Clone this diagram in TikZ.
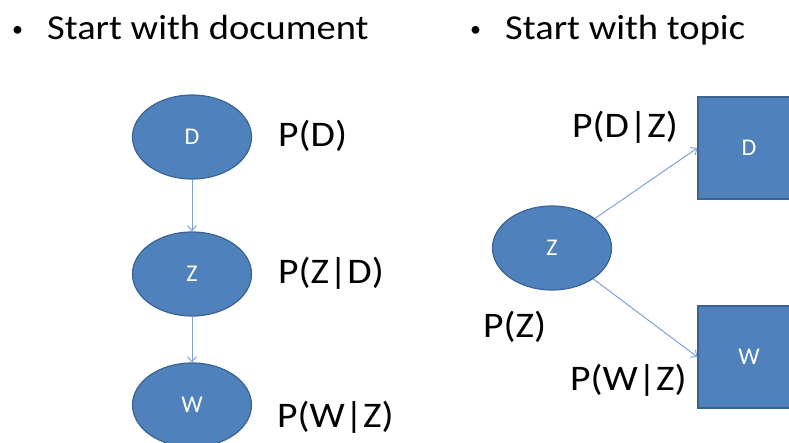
\documentclass[tikz,border=0pt]{standalone}
\usepackage{fontspec}
\setmainfont{Carlito}
\usetikzlibrary{shapes.geometric,arrows.meta}
\definecolor{nodeblue}{HTML}{4F81BD}
\definecolor{nodeedge}{HTML}{3A6390}
\definecolor{linkblue}{HTML}{7FA3CF}
% slightly widened text, as in the slide
\newcommand\widetext[1]{\scalebox{1.1}[1]{#1}}
\newcommand\dotmark{\raisebox{3pt}{\fontsize{22}{24}\selectfont •}}
\newcommand\nodefont{\fontsize{24}{26}\selectfont}
\tikzset{
  x=1pt, y=-1pt,
  oval/.style={ellipse, fill=nodeblue, draw=nodeedge, line width=1.2pt,
    minimum width=119pt, minimum height=84pt, inner sep=0pt,
    text=white, font=\nodefont},
  boxnode/.style={rectangle, fill=nodeblue, draw=nodeedge, line width=1.2pt,
    minimum width=102pt, minimum height=102pt, inner sep=0pt,
    text=white, font=\nodefont},
  prob/.style={anchor=base west, inner sep=0pt, font=\fontsize{36}{40}\selectfont},
  head/.style={anchor=base west, inner sep=0pt, font=\fontsize{35}{40}\selectfont},
  link/.style={draw=linkblue, line width=1pt, -{Straight Barb[length=5pt,width=9pt]}},
}
\begin{document}
\begin{tikzpicture}
\useasboundingbox (0,0) rectangle (789,443);

% headings
\node[head] (b1) at (12,40) {\dotmark};
\node[head] (h1) at (47,40) {\widetext{Start with document}};
\node[head] (b2) at (470,40) {\dotmark};
\node[head] (h2) at (505,40) {\widetext{Start with topic}};

% chain: document -> topic -> word
\node[oval] (d1) at (192,137) {D};
\node[oval] (z1) at (192,274) {Z};
\node[oval] (w1) at (192,405) {W};
\draw[link] (d1) -- (z1);
\draw[link] (z1) -- (w1);
\node[prob] (pd) at (278,147) {\widetext{P(D)}};
\node[prob] (pzd) at (278,284) {\widetext{P(Z|D)}};
\node[prob] (pwz) at (277,427) {\widetext{P(W|Z)}};

% topic first: Z generates D and W
\node[oval] (z2) at (552,248) {Z};
\node[boxnode] (d2) at (749,148) {D};
\node[boxnode] (w2) at (749,357) {W};
\draw[link] (z2) -- (d2.west);
\draw[link] (z2) -- (w2.west);
\node[prob] (pdz) at (572,138) {\widetext{P(D|Z)}};
\node[prob] (pz) at (483,337) {\widetext{P(Z)}};
\node[prob] (pwz2) at (570,390) {\widetext{P(W|Z)}};
\end{tikzpicture}
\end{document}
